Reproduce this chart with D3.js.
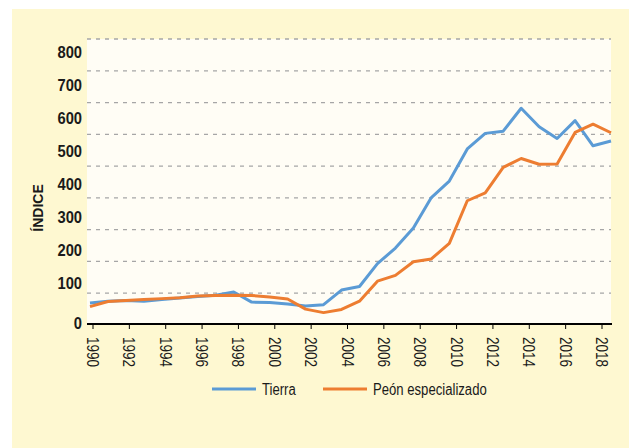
<!DOCTYPE html>
<html>
<head>
<meta charset="utf-8">
<script src="https://cdn.jsdelivr.net/npm/d3@7"></script>
<style>
  body { margin: 0; background: #fff; }
  text { font-family: "Liberation Sans", Arial, sans-serif; fill: #1a1a1a; }
</style>
</head>
<body>
<svg id="chart" width="636" height="448"></svg>
<script>
// años de la serie
const years = [1990, 1991, 1992, 1993, 1994, 1995, 1996, 1997, 1998, 1999,
    2000, 2001, 2002, 2003, 2004, 2005, 2006, 2007, 2008, 2009,
    2010, 2011, 2012, 2013, 2014, 2015, 2016, 2017, 2018, 2019];
const tierra = [69, 75, 77, 75, 80, 85, 90, 94, 104, 72,
    71, 66, 60, 64, 110, 121, 193, 242, 305, 401,
    453, 554, 603, 610, 682, 624, 587, 643, 564, 579];
const peon = [58, 74, 77, 80, 83, 86, 91, 93, 94, 93,
    88, 82, 50, 39, 49, 75, 138, 156, 199, 208,
    257, 391, 416, 496, 524, 506, 507, 606, 632, 605];
const yLabels = [0, 100, 200, 300, 400, 500, 600, 700, 800];
const xLabels = ['1990', '1992', '1994', '1996', '1998', '2000', '2002', '2004',
    '2006', '2008', '2010', '2012', '2014', '2016', '2018'];
const seriesNames = ['Tierra', 'Peón especializado'];
const colors = ['#5b9bd5', '#ed7d31'];

let svg = d3.select('#chart');

let plot = { left: 87, right: 611, top: 39, bottom: 325 };
// la fuente original es condensada
let narrow = 0.82;

let x = d3.scaleLinear().domain([1990, 2019]).range([90, 611]);
let xLab = d3.scaleLinear().domain([1990, 2018]).range([93, 602]);
let y = d3.scaleLinear().domain([0, 900]).range([plot.bottom, plot.top]);
let yLab = d3.scaleLinear().domain([100, 800]).range([283, 52]);

// fondos
svg.append('rect').attr('x', 12).attr('y', 9).attr('width', 617).attr('height', 440)
    .attr('fill', '#fef8d1');
svg.append('rect').attr('x', plot.left).attr('y', plot.top)
    .attr('width', plot.right - plot.left).attr('height', plot.bottom - plot.top)
    .attr('fill', '#fffdf5');

// rejilla
svg.append('g').selectAll('line')
    .data(y.ticks(9).filter(d => d > 0))
    .join('line')
    .attr('x1', plot.left).attr('x2', plot.right)
    .attr('y1', d => y(d)).attr('y2', d => y(d))
    .attr('stroke', '#a6a6a6').attr('stroke-width', 1.3)
    .attr('stroke-dasharray', '4,5');

// etiquetas eje Y
svg.append('g').selectAll('text')
    .data(yLabels)
    .join('text')
    .attr('transform', d => 'translate(82,' + (d === 0 ? y(0) - 2 : yLab(d)) + ') scale(0.92,1)')
    .attr('dy', '0.36em')
    .attr('text-anchor', 'end')
    .attr('font-size', 16)
    .attr('font-weight', 'bold')
    .text(d => d);

svg.append('text')
    .attr('transform', 'translate(43,208) rotate(-90)')
    .attr('text-anchor', 'middle')
    .attr('font-size', 14)
    .attr('font-weight', 'bold')
    .text('ÍNDICE');

// lineas
let line = d3.line().x((d, i) => x(years[i])).y(d => y(d));
[tierra, peon].forEach((s, k) => {
    svg.append('path')
        .datum(s)
        .attr('d', line)
        .attr('fill', 'none')
        .attr('stroke', colors[k])
        .attr('stroke-width', 3)
        .attr('stroke-linejoin', 'round');
});

// eje X
svg.append('line')
    .attr('x1', plot.left).attr('x2', plot.right + 1)
    .attr('y1', y(0) - 1).attr('y2', y(0) - 1)
    .attr('stroke', '#000').attr('stroke-width', 2.2);
svg.append('g').selectAll('line')
    .data(xLabels)
    .join('line')
    .attr('x1', d => xLab(+d)).attr('x2', d => xLab(+d))
    .attr('y1', y(0)).attr('y2', y(0) + 4)
    .attr('stroke', '#000').attr('stroke-width', 1);
svg.append('g').selectAll('text')
    .data(xLabels)
    .join('text')
    .attr('transform', d => 'translate(' + xLab(+d) + ',' + 337 + ') rotate(90) scale(' + narrow + ',1)')
    .attr('dy', '0.36em')
    .attr('font-size', 16.5)
    .text(d => d);

// leyenda
let legendX = [212, 323];
seriesNames.forEach((name, k) => {
    svg.append('line')
        .attr('x1', legendX[k]).attr('x2', legendX[k] + 44)
        .attr('y1', 389).attr('y2', 389)
        .attr('stroke', colors[k]).attr('stroke-width', 3);
    svg.append('text')
        .attr('transform', 'translate(' + (legendX[k] + 50) + ',395) scale(' + narrow + ',1)')
        .attr('font-size', 16)
        .text(name);
});
</script>
</body>
</html>
